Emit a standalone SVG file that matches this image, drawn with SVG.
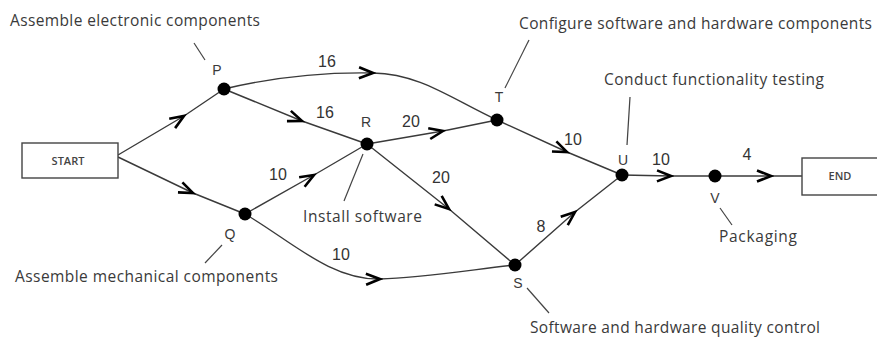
<svg xmlns="http://www.w3.org/2000/svg" width="877" height="340" viewBox="0 0 877 340">
<style>
  .edge{fill:none;stroke:#3a3a3a;stroke-width:1.4;marker-mid:url(#arr)}
  .lead{fill:none;stroke:#444;stroke-width:1.2}
  .box{fill:#fff;stroke:#444;stroke-width:1.4}
  .dot{fill:#000}
  .lbl{font-family:"Open Sans","Liberation Sans",sans-serif;font-size:15.5px;fill:#3a3a3a}
  .id{font-family:"Liberation Sans",Arial,sans-serif;font-size:14px;fill:#3a3a3a;text-anchor:middle}
  .num{font-family:"Liberation Sans",Arial,sans-serif;font-size:16px;fill:#333;text-anchor:middle}
  .bt{font-family:"Open Sans","Liberation Sans",sans-serif;font-size:11px;font-weight:600;fill:#444;text-anchor:middle}
</style>
<defs>
  <marker id="arr" markerUnits="userSpaceOnUse" markerWidth="18" markerHeight="14" refX="15" refY="7" orient="auto" viewBox="0 0 18 14">
    <path d="M1,1.5 L15,7 L1,12.5" fill="none" stroke="#000" stroke-width="2.6" stroke-linejoin="miter"/>
  </marker>
</defs>
<rect width="877" height="340" fill="#fff"/>
<g id="connectors">
  <path class="edge" d="M118,155 L184,116 L224,89"/>
  <path class="edge" d="M118,157 L193,193 L245,214"/>
  <path class="edge" d="M224,89 C270,78 320,72 373,73 C420,74 450,98 497,120"/>
  <path class="edge" d="M224,89 L302,121 L367,144"/>
  <path class="edge" d="M245,214 L314,175 L367,144"/>
  <path class="edge" d="M367,144 L443,131 L497,120"/>
  <path class="edge" d="M367,144 L449,209 L515,265"/>
  <path class="edge" d="M245,214 C290,240 330,280 380,279 C420,278 470,270 515,265"/>
  <path class="edge" d="M497,120 L567,152 L622,175"/>
  <path class="edge" d="M515,265 L575,212 L622,175"/>
  <path class="edge" d="M622,175 L671,176 L715,176"/>
  <path class="edge" d="M715,176 L771,176 L802,176"/>
</g>
<g id="leaders">
  <line class="lead" x1="194" y1="43" x2="205" y2="60"/>
  <line class="lead" x1="529" y1="40" x2="505" y2="88"/>
  <line class="lead" x1="630" y1="97" x2="627" y2="145"/>
  <line class="lead" x1="363" y1="154" x2="344" y2="201"/>
  <line class="lead" x1="222" y1="245" x2="205" y2="263"/>
  <line class="lead" x1="527" y1="288" x2="549" y2="313"/>
  <line class="lead" x1="720" y1="208" x2="732" y2="225"/>
</g>
<g id="START">
  <rect class="box" x="22" y="143" width="96" height="35"/>
  <text class="bt" x="68" y="165">START</text>
</g>
<g id="END">
  <rect class="box" x="802" y="158" width="80" height="37"/>
  <text class="bt" x="840" y="180">END</text>
</g>
<g id="P">
  <circle class="dot" cx="224" cy="89" r="6.5"/>
  <text class="id" x="217" y="75">P</text>
  <text class="lbl" x="10" y="26" textLength="250" lengthAdjust="spacing">Assemble electronic components</text>
</g>
<g id="Q">
  <circle class="dot" cx="245" cy="214" r="6.5"/>
  <text class="id" x="230" y="239">Q</text>
  <text class="lbl" x="15" y="282" textLength="263" lengthAdjust="spacing">Assemble mechanical components</text>
</g>
<g id="R">
  <circle class="dot" cx="367" cy="144" r="6.5"/>
  <text class="id" x="366" y="127">R</text>
  <text class="lbl" x="303" y="222" textLength="119" lengthAdjust="spacing">Install software</text>
</g>
<g id="T">
  <circle class="dot" cx="497" cy="120" r="6.5"/>
  <text class="id" x="499" y="102">T</text>
  <text class="lbl" x="519" y="29" textLength="353" lengthAdjust="spacing">Configure software and hardware components</text>
</g>
<g id="S">
  <circle class="dot" cx="515" cy="265" r="6.5"/>
  <text class="id" x="518" y="288">S</text>
  <text class="lbl" x="530" y="333" textLength="290" lengthAdjust="spacing">Software and hardware quality control</text>
</g>
<g id="U">
  <circle class="dot" cx="622" cy="175" r="6.5"/>
  <text class="id" x="623" y="165">U</text>
  <text class="lbl" x="604" y="85" textLength="220" lengthAdjust="spacing">Conduct functionality testing</text>
</g>
<g id="V">
  <circle class="dot" cx="715" cy="176" r="6.5"/>
  <text class="id" x="715" y="203">V</text>
  <text class="lbl" x="719" y="242" textLength="78" lengthAdjust="spacing">Packaging</text>
</g>
<g id="weights">
  <text class="num" x="327" y="67">16</text>
  <text class="num" x="325" y="118">16</text>
  <text class="num" x="411" y="127">20</text>
  <text class="num" x="278" y="180">10</text>
  <text class="num" x="441" y="183">20</text>
  <text class="num" x="341" y="260">10</text>
  <text class="num" x="573" y="145">10</text>
  <text class="num" x="541" y="232">8</text>
  <text class="num" x="661" y="165">10</text>
  <text class="num" x="747" y="160">4</text>
</g>
</svg>
